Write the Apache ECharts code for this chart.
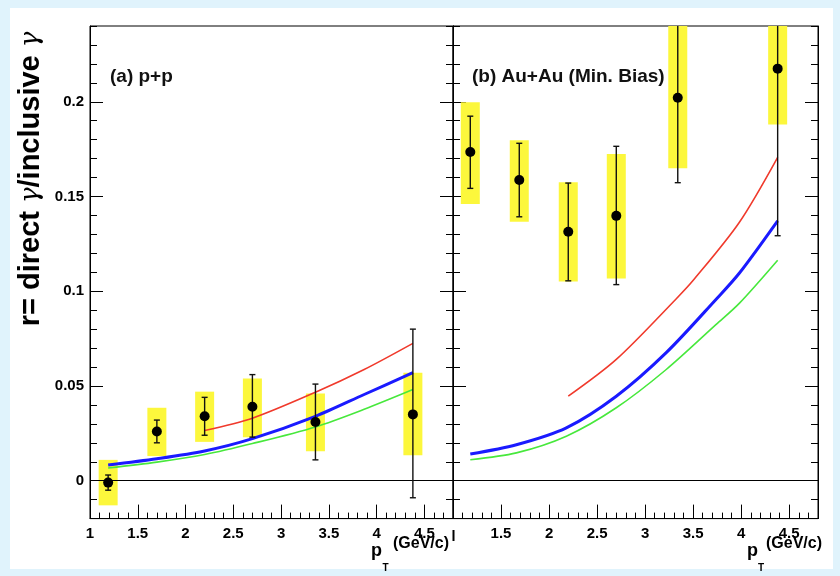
<!DOCTYPE html>
<html><head><meta charset="utf-8">
<script src="https://cdn.jsdelivr.net/npm/echarts@6/dist/echarts.min.js"></script>
<style>html,body{margin:0;padding:0;background:#e0f3fc}#c{width:840px;height:576px}</style>
</head><body><div id="c"></div>
<script>
// ---- tick labels ----
const yTicks = [0, 0.05, 0.1, 0.15, 0.2];
const xTicksL = [1, 1.5, 2, 2.5, 3, 3.5, 4, 4.5];
const xTicksR = [1.5, 2, 2.5, 3, 3.5, 4, 4.5];

// ---- (a) p+p data ----
const ppX      = [1.19, 1.70, 2.20, 2.70, 3.36, 4.38];
const ppY      = [-0.001, 0.026, 0.034, 0.039, 0.031, 0.035];
const ppStatLo = [-0.005, 0.020, 0.024, 0.023, 0.011, -0.009];
const ppStatHi = [0.003, 0.032, 0.044, 0.056, 0.051, 0.080];
const ppSysLo  = [-0.013, 0.013, 0.0205, 0.023, 0.0155, 0.0134];
const ppSysHi  = [0.011, 0.0385, 0.047, 0.054, 0.046, 0.057];

const ppCurveX = [1.19, 1.70, 2.20, 2.70, 3.36, 3.87, 4.38];
const ppBlue   = [0.0083, 0.0116, 0.0157, 0.0222, 0.0340, 0.0455, 0.0570];
const ppGreen  = [0.0067, 0.0098, 0.0138, 0.0196, 0.0284, 0.0377, 0.0481];
const ppRedX   = [2.20, 2.70, 3.36, 3.87, 4.38];
const ppRed    = [0.0265, 0.0330, 0.0467, 0.0587, 0.0725];

// ---- (b) Au+Au data ----
const auX      = [1.18, 1.69, 2.20, 2.70, 3.34, 4.38];
const auY      = [0.1735, 0.1587, 0.1314, 0.1398, 0.2021, 0.2175];
const auStatLo = [0.1543, 0.1393, 0.1055, 0.1035, 0.1573, 0.1293];
const auStatHi = [0.1924, 0.1781, 0.1571, 0.1765, 0.2470, 0.3060];
const auSysLo  = [0.1460, 0.1367, 0.1051, 0.1067, 0.1649, 0.1880];
const auSysHi  = [0.1998, 0.1797, 0.1575, 0.1725, 0.2400, 0.2470];

const auCurveX = [1.18, 1.66, 2.18, 2.70, 3.22, 3.74, 3.98, 4.38];
const auBlue   = [0.0141, 0.0190, 0.0279, 0.0446, 0.0676, 0.0958, 0.1095, 0.1372];
const auGreen  = [0.0111, 0.0147, 0.0235, 0.0385, 0.0587, 0.0825, 0.0936, 0.1164];
const auRedX   = [2.20, 2.70, 3.32, 3.51, 3.98, 4.38];
const auRed    = [0.0446, 0.0640, 0.0958, 0.1063, 0.1363, 0.1707];

const FONT = 'Liberation Sans';
const BOX_HALF = 9.5, CAP_HALF = 3, DOT_R = 5;

function pts(xs, ys) { return xs.map((x, i) => [x, ys[i]]); }
function rows(x, y, lo, hi, slo, shi) { return x.map((v, i) => [v, y[i], lo[i], hi[i], slo[i], shi[i]]); }

function boxRender(params, api) {
  const cs = params.coordSys;
  const top = cs.y, bot = cs.y + cs.height;
  const x = api.value(0);
  const a = api.coord([x, api.value(5)]);
  const b = api.coord([x, api.value(4)]);
  const y1 = Math.max(a[1], top), y2 = Math.min(b[1], bot);
  return { type: 'rect', shape: { x: a[0] - BOX_HALF, y: y1, width: 2 * BOX_HALF, height: y2 - y1 },
           style: { fill: '#fcf73c' } };
}
function errRender(params, api) {
  const cs = params.coordSys;
  const top = cs.y, bot = cs.y + cs.height;
  const x = api.value(0);
  const p = api.coord([x, api.value(1)]);
  const l = api.coord([x, api.value(2)]);
  const h = api.coord([x, api.value(3)]);
  const yl = Math.min(l[1], bot), yh = Math.max(h[1], top);
  const st = { stroke: '#111', lineWidth: 1.4 };
  const ch = [{ type: 'line', shape: { x1: p[0], y1: yh, x2: p[0], y2: yl }, style: st }];
  if (l[1] <= bot) ch.push({ type: 'line', shape: { x1: p[0] - CAP_HALF, y1: l[1], x2: p[0] + CAP_HALF, y2: l[1] }, style: st });
  if (h[1] >= top) ch.push({ type: 'line', shape: { x1: p[0] - CAP_HALF, y1: h[1], x2: p[0] + CAP_HALF, y2: h[1] }, style: st });
  ch.push({ type: 'circle', shape: { cx: p[0], cy: p[1], r: DOT_R }, style: { fill: '#000' } });
  return { type: 'group', children: ch };
}

const lineCol = { color: '#000', width: 1 };
function xMajor(gi, ticks) {
  return { type: 'value', gridIndex: gi, position: 'bottom', min: 1, max: 4.8,
    axisLine: { show: true, onZero: false, lineStyle: lineCol },
    axisTick: { show: true, inside: true, length: 14, lineStyle: lineCol, customValues: ticks },
    axisLabel: { show: true, customValues: ticks, margin: 8, color: '#000', fontFamily: FONT, fontWeight: 'bold', fontSize: 15 },
    splitLine: { show: false } };
}
function xMinor(gi) {
  return { type: 'value', gridIndex: gi, position: 'bottom', min: 1, max: 4.8, interval: 0.1,
    axisLine: { show: false, onZero: false }, axisTick: { show: true, inside: true, length: 6, lineStyle: lineCol },
    axisLabel: { show: false }, splitLine: { show: false } };
}
function yMajor(gi, pos, showLabel) {
  return { type: 'value', gridIndex: gi, position: pos, min: -0.02, max: 0.24,
    axisLine: { show: true, onZero: false, lineStyle: lineCol },
    axisTick: { show: true, inside: true, length: 13, lineStyle: lineCol, customValues: yTicks },
    axisLabel: { show: showLabel, customValues: yTicks, margin: 6, color: '#000', fontFamily: FONT, fontWeight: 'bold', fontSize: 15 },
    splitLine: { show: false } };
}
function yMinor(gi, pos) {
  return { type: 'value', gridIndex: gi, position: pos, min: -0.02, max: 0.24, interval: 0.01,
    axisLine: { show: false, onZero: false }, axisTick: { show: true, inside: true, length: 7, lineStyle: lineCol },
    axisLabel: { show: false }, splitLine: { show: false } };
}

function curve(name, data, xi, yi, color, width, withZero) {
  const s = { type: 'line', name, data, xAxisIndex: xi, yAxisIndex: yi, smooth: 0.3,
    showSymbol: false, symbol: 'none', lineStyle: { color, width }, z: 3, silent: true, animation: false };
  if (withZero) s.markLine = { silent: true, symbol: 'none', label: { show: false }, animation: false,
    lineStyle: { color: '#000', width: 1, type: 'solid' }, data: [{ yAxis: 0 }] };
  return s;
}

const chart = echarts.init(document.getElementById('c'));
chart.setOption({
  backgroundColor: '#e0f3fc',
  animation: false,
  grid: [
    { left: 90, top: 26, width: 363, height: 492.6, show: true, borderColor: '#000', borderWidth: 1, backgroundColor: 'transparent' },
    { left: 453, top: 26, width: 365, height: 492.6, show: true, borderColor: '#000', borderWidth: 1, backgroundColor: 'transparent' }
  ],
  xAxis: [xMajor(0, xTicksL), xMinor(0), xMajor(1, xTicksR), xMinor(1)],
  yAxis: [yMajor(0, 'left', true), yMinor(0, 'left'), yMajor(0, 'right', false), yMinor(0, 'right'),
          yMajor(1, 'left', false), yMinor(1, 'left'), yMajor(1, 'right', false), yMinor(1, 'right')],
  series: [
    { type: 'custom', xAxisIndex: 0, yAxisIndex: 0, data: rows(ppX, ppY, ppStatLo, ppStatHi, ppSysLo, ppSysHi),
      renderItem: boxRender, encode: { x: 0, y: 1 }, z: 1, silent: true },
    curve('ppGreen', pts(ppCurveX, ppGreen), 0, 0, '#47e83c', 1.6, true),
    curve('ppBlue', pts(ppCurveX, ppBlue), 0, 0, '#1a1aff', 3, false),
    curve('ppRed', pts(ppRedX, ppRed), 0, 0, '#f03a2c', 1.6, false),
    { type: 'custom', xAxisIndex: 0, yAxisIndex: 0, data: rows(ppX, ppY, ppStatLo, ppStatHi, ppSysLo, ppSysHi),
      renderItem: errRender, encode: { x: 0, y: 1 }, z: 5, silent: true },

    { type: 'custom', xAxisIndex: 2, yAxisIndex: 4, data: rows(auX, auY, auStatLo, auStatHi, auSysLo, auSysHi),
      renderItem: boxRender, encode: { x: 0, y: 1 }, z: 1, silent: true },
    curve('auGreen', pts(auCurveX, auGreen), 2, 4, '#47e83c', 1.6, true),
    curve('auBlue', pts(auCurveX, auBlue), 2, 4, '#1a1aff', 3, false),
    curve('auRed', pts(auRedX, auRed), 2, 4, '#f03a2c', 1.6, false),
    { type: 'custom', xAxisIndex: 2, yAxisIndex: 4, data: rows(auX, auY, auStatLo, auStatHi, auSysLo, auSysHi),
      renderItem: errRender, encode: { x: 0, y: 1 }, z: 5, silent: true }
  ],
  graphic: [
    { type: 'rect', z: -1, silent: true, shape: { x: 10, y: 8, width: 823, height: 561 }, style: { fill: '#ffffff' } },
    { type: 'text', z: 100, x: 31, y: 179, rotation: Math.PI / 2,
      style: { text: '{b|r= direct }{g|γ}{b|/inclusive }{g|γ}', align: 'center', verticalAlign: 'middle',
        rich: { b: { fontFamily: FONT, fontWeight: 'bold', fontSize: 29, fill: '#000' },
                g: { fontFamily: 'DejaVu Serif', fontStyle: 'italic', fontSize: 26, fill: '#000' } } } },
    { type: 'text', z: 100, x: 110, y: 77, style: { text: '(a) p+p', fontFamily: FONT, fontWeight: 'bold', fontSize: 19, fill: '#111', verticalAlign: 'middle' } },
    { type: 'text', z: 100, x: 472, y: 77, style: { text: '(b) Au+Au (Min. Bias)', fontFamily: FONT, fontWeight: 'bold', fontSize: 19, fill: '#111', verticalAlign: 'middle' } },
    { type: 'text', z: 100, x: 371, y: 551, style: { text: 'p', fontFamily: FONT, fontWeight: 'bold', fontSize: 18, fill: '#000', verticalAlign: 'middle' } },
    { type: 'text', z: 100, x: 382.5, y: 568, style: { text: 'T', fontFamily: FONT, fontWeight: 'bold', fontSize: 10, fill: '#000', verticalAlign: 'middle' } },
    { type: 'text', z: 100, x: 393, y: 544, style: { text: '(GeV/c)', fontFamily: FONT, fontWeight: 'bold', fontSize: 16, fill: '#000', verticalAlign: 'middle' } },
    { type: 'text', z: 100, x: 747, y: 551, style: { text: 'p', fontFamily: FONT, fontWeight: 'bold', fontSize: 18, fill: '#000', verticalAlign: 'middle' } },
    { type: 'text', z: 100, x: 758, y: 568, style: { text: 'T', fontFamily: FONT, fontWeight: 'bold', fontSize: 10, fill: '#000', verticalAlign: 'middle' } },
    { type: 'text', z: 100, x: 766, y: 544, style: { text: '(GeV/c)', fontFamily: FONT, fontWeight: 'bold', fontSize: 16, fill: '#000', verticalAlign: 'middle' } },
    { type: 'line', z: 100, shape: { x1: 453.5, y1: 530, x2: 453.5, y2: 541 }, style: { stroke: '#000', lineWidth: 2 } }
  ]
});
</script>
</body></html>
